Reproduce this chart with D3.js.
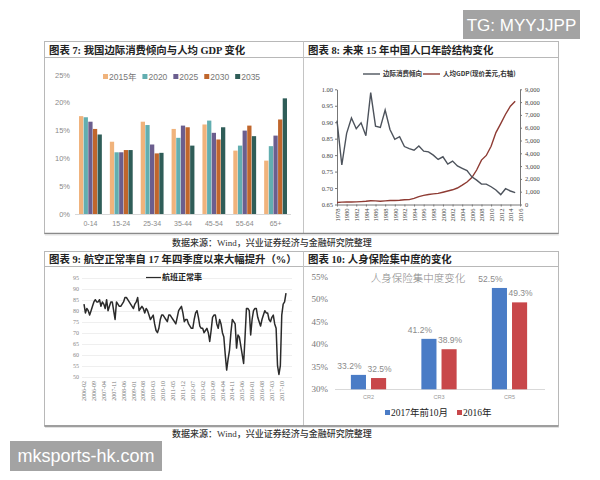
<!DOCTYPE html>
<html><head><meta charset="utf-8">
<script src="https://cdn.jsdelivr.net/npm/d3@7"></script>
<style>body{margin:0;background:#fff}svg{display:block}</style>
</head><body><svg id="c" width="600" height="480"></svg>
<script>
// ---------- DATA ----------
// Panel 7
const ageGroups = ["0-14","15-24","25-34","35-44","45-54","55-64","65+"];
const years7 = ["2015年","2020","2025","2030","2035"];
const mpc2015 = [17.6,13.0,16.6,15.3,16.1,11.4,9.6];
const mpc2020 = [17.4,11.1,16.0,13.7,16.8,12.3,12.2];
const mpc2025 = [16.6,11.1,12.5,15.9,14.6,15.0,14.1];
const mpc2030 = [15.3,11.5,10.9,15.6,13.4,15.9,17.0];
const mpc2035 = [14.3,11.5,11.0,12.3,15.6,14.0,20.8];
const yTicks7 = [0,5,10,15,20,25];

// Panel 8
const years8 = [1978,1979,1980,1981,1982,1983,1984,1985,1986,1987,1988,1989,1990,1991,1992,1993,1994,1995,1996,1997,1998,1999,2000,2001,2002,2003,2004,2005,2006,2007,2008,2009,2010,2011,2012,2013,2014,2015];
const marginalPropensity = [0.905,0.770,0.866,0.913,0.880,0.898,0.859,0.990,0.888,0.884,0.937,0.878,0.848,0.856,0.826,0.820,0.815,0.828,0.812,0.810,0.800,0.787,0.795,0.773,0.782,0.767,0.760,0.753,0.734,0.724,0.712,0.712,0.704,0.694,0.680,0.698,0.691,0.686];
const gdpPerCapita = [156,184,195,197,203,225,250,294,282,252,284,311,318,333,366,377,473,610,709,782,829,873,959,1053,1149,1289,1509,1753,2099,2694,3468,3832,4550,5618,6317,7051,7679,8067];
const xTicks8 = [1978,1980,1982,1984,1986,1988,1990,1992,1994,1996,1998,2000,2002,2004,2006,2008,2010,2012,2014,2016];
const yTicksL8 = [0.65,0.70,0.75,0.80,0.85,0.90,0.95,1.00];
const yTicksR8 = [0,1000,2000,3000,4000,5000,6000,7000,8000,9000];

// Panel 9
const punctuality = [83,79,81,80,78,80,82,84,85,84,84,85,82,84,83,81,85,80,82,84,84,80,76,84,83,82,82,83,84,86,86,85,84,83,82,81,83,84,86,80,81,82,81,79,81,80,78,76,77,78,74,71,70,72,76,78,78,77,76,75,78,78,77,76,75,74,77,80,81,82,79,75,76,76,74,73,72,72,76,79,80,77,73,72,72,70,71,72,70,66,71,77,78,78,74,72,76,74,70,68,60,53,58,62,70,76,75,74,63,69,68,64,60,56,68,81,81,80,69,76,80,81,81,77,75,73,76,78,80,79,79,76,75,77,78,74,72,55,51,55,78,83,84,88];
const xTicks9 = ["2006-02","2006-09","2007-04","2007-11","2008-06","2009-01","2009-08","2010-03","2010-10","2011-05","2011-12","2012-07","2013-02","2013-09","2014-04","2014-11","2015-06","2016-01","2016-08","2017-03","2017-10"];
const yTicks9 = [50,55,60,65,70,75,80,85,90,95];

// Panel 10
const crCats = ["CR2","CR3","CR5"];
const series10 = ["2017年前10月","2016年"];
const cr2017 = [33.2,41.2,52.5];
const cr2016 = [32.5,38.9,49.3];
const yTicks10 = [30,35,40,45,50,55];

// ---------- DRAW ----------
const svg = d3.select("#c");
svg.append("rect").attr("width",600).attr("height",480).attr("fill","#fff");
const CJK = "'Noto Sans CJK SC',sans-serif";
const SERIF = "'Liberation Serif','Noto Sans CJK SC',serif";

function panelFrame(y0,yT,y1){
  const g = svg.append("g").attr("fill","none");
  g.append("rect").attr("x",44.5).attr("y",y0).attr("width",514).attr("height",y1-y0).attr("stroke","#b8b8b8");
  g.append("line").attr("x1",44.5).attr("x2",558.5).attr("y1",yT).attr("y2",yT).attr("stroke","#b8b8b8");
  g.append("line").attr("x1",303.5).attr("x2",303.5).attr("y1",y0).attr("y2",y1).attr("stroke","#c4c4c4");
  g.append("line").attr("x1",44.5).attr("x2",558.5).attr("y1",y1).attr("y2",y1).attr("stroke","#8a8a8a").attr("stroke-width",1.5);
  g.append("line").attr("x1",45).attr("x2",559).attr("y1",y1+1.5).attr("y2",y1+1.5).attr("stroke","#e2e2e2").attr("stroke-width",1.2);
}
panelFrame(41.5,57.5,233.5);
panelFrame(251.5,266.5,426);

function title(x,y,t){
  svg.append("text").attr("x",x).attr("y",y).text(t)
    .attr("font-family",SERIF).attr("font-size",10.4).attr("font-weight",700).attr("fill","#222");
}
title(49,53.5,"图表 7: 我国边际消费倾向与人均 GDP 变化");
title(308,53.5,"图表 8: 未来 15 年中国人口年龄结构变化");
title(49,263,"图表 9: 航空正常率自 17 年四季度以来大幅提升（%）");
title(308,263,"图表 10: 人身保险集中度的变化");

function source(y){
  svg.append("text").attr("x",172).attr("y",y).text("数据来源：Wind，兴业证券经济与金融研究院整理")
    .attr("font-family",SERIF).attr("font-size",9).attr("font-weight",500).attr("fill","#333");
}
source(245.5);
source(437);

// ===== Panel 7 =====
{
  const g = svg.append("g");
  const series = [mpc2015,mpc2020,mpc2025,mpc2030,mpc2035];
  const colors = ["#f0b37c","#62aeb0","#6b5e8e","#c0662c","#2f5d58"];
  const x = d3.scaleBand().domain(ageGroups).range([75,291]).paddingInner(0.26).paddingOuter(0.13);
  const xi = d3.scaleBand().domain(years7).range([0,x.bandwidth()]).paddingInner(0.08);
  const y = d3.scaleLinear().domain([0,25]).range([214,75]);
  g.selectAll(".yl").data(yTicks7).join("text").attr("x",70).attr("y",d=>y(d)).attr("dy","0.35em")
    .attr("text-anchor","end").attr("font-size",7.5).attr("font-family","'Liberation Sans',sans-serif").attr("fill","#8a8a8a").text(d=>d+"%");
  g.append("line").attr("x1",75).attr("x2",291).attr("y1",y(0)+0.5).attr("y2",y(0)+0.5).attr("stroke","#d8d8d8");
  years7.forEach((yr,k)=>{
    g.selectAll(null).data(ageGroups).join("rect")
      .attr("x",d=>x(d)+xi(yr)).attr("width",xi.bandwidth())
      .attr("y",(d,i)=>y(series[k][i])).attr("height",(d,i)=>y(0)-y(series[k][i]))
      .attr("fill",colors[k]);
  });
  g.selectAll(".xl").data(ageGroups).join("text").attr("x",d=>x(d)+x.bandwidth()/2).attr("y",226)
    .attr("text-anchor","middle").attr("font-size",7).attr("font-family","'Liberation Sans',sans-serif").attr("fill","#8a8a8a").text(d=>d);
  let lx = 103;
  years7.forEach((yr,k)=>{
    g.append("rect").attr("x",lx).attr("y",74).attr("width",5).attr("height",5).attr("fill",colors[k]);
    const t = g.append("text").attr("x",lx+6).attr("y",77).attr("dy","0.35em").attr("font-size",8.5)
      .attr("font-family","'Liberation Sans','Noto Sans CJK SC',sans-serif").attr("fill","#777").text(yr);
    lx += 6 + t.node().getComputedTextLength() + 6;
  });
}

// ===== Panel 8 =====
{
  const g = svg.append("g");
  const x = d3.scaleLinear().domain([1978,2016]).range([337,520]);
  const yL = d3.scaleLinear().domain([0.65,1.0]).range([204.5,89.3]);
  const yR = d3.scaleLinear().domain([0,9000]).range([204.5,89.3]);
  const small = "'Liberation Serif',serif";
  const ax = g.append("g").attr("transform","translate(337,0)")
    .call(d3.axisLeft(yL).tickValues(yTicksL8).tickFormat(d3.format(".2f")).tickSize(2).tickSizeOuter(0));
  const ar = g.append("g").attr("transform","translate(520,0)")
    .call(d3.axisRight(yR).tickValues(yTicksR8).tickFormat(d3.format(",")).tickSize(2).tickSizeOuter(0));
  const ab = g.append("g").attr("transform","translate(0,204.5)")
    .call(d3.axisBottom(x).tickValues(xTicks8).tickFormat(d3.format("d")).tickSize(2).tickSizeOuter(0));
  ab.selectAll("text").attr("transform","rotate(-90)").attr("x",-4).attr("y",0).attr("dy","0.35em").style("text-anchor","end");
  [ax,ar,ab].forEach(a=>{
    a.selectAll("text").attr("font-size",6.5).attr("font-family",small).attr("fill","#444");
    a.selectAll("path,line").attr("stroke","#777");
  });
  ar.selectAll("text").attr("x",5);
  ax.selectAll("text").attr("x",-4);
  const lineL = d3.line().x((d,i)=>x(years8[i])).y(d=>yL(d));
  const lineR = d3.line().x((d,i)=>x(years8[i])).y(d=>yR(d));
  g.append("path").attr("d",lineR(gdpPerCapita)).attr("fill","none").attr("stroke","#8e3b33").attr("stroke-width",1.4);
  g.append("path").attr("d",lineL(marginalPropensity)).attr("fill","none").attr("stroke","#4d535c").attr("stroke-width",1.4);
  g.append("line").attr("x1",363).attr("x2",380).attr("y1",74).attr("y2",74).attr("stroke","#4d535c").attr("stroke-width",1.4);
  g.append("text").attr("x",383).attr("y",74).attr("dy","0.35em").attr("font-size",6.5).attr("font-weight",700)
    .attr("font-family",CJK).attr("fill","#333").text("边际消费倾向");
  g.append("line").attr("x1",423).attr("x2",440).attr("y1",74).attr("y2",74).attr("stroke","#8e3b33").attr("stroke-width",1.4);
  g.append("text").attr("x",443).attr("y",74).attr("dy","0.35em").attr("font-size",6.5).attr("font-weight",700)
    .attr("font-family",CJK).attr("fill","#333").text("人均GDP(现价美元,右轴)");
}

// ===== Panel 9 =====
{
  const g = svg.append("g");
  const months = [];
  for (let k=0;k<punctuality.length;k++){
    const m = 1 + k;
    const yr = 2006 + Math.floor(m/12), mo = (m%12)+1;
    months.push(yr+"-"+String(mo).padStart(2,"0"));
  }
  const x = d3.scalePoint().domain(months).range([84,286]);
  const y = d3.scaleLinear().domain([50,95]).range([376.7,277.7]);
  g.selectAll(".gl").data(yTicks9).join("line").attr("x1",82).attr("x2",292)
    .attr("y1",d=>Math.round(y(d))+0.5).attr("y2",d=>Math.round(y(d))+0.5).attr("stroke","#efefef");
  g.selectAll(".yl").data(yTicks9).join("text").attr("x",79).attr("y",d=>y(d)).attr("dy","0.35em")
    .attr("text-anchor","end").attr("font-size",6).attr("font-family","'Liberation Serif',serif").attr("fill","#888").text(d=>d);
  g.selectAll(".xl").data(xTicks9).join("text")
    .attr("transform",d=>`translate(${x(d)},381) rotate(-90)`).attr("dy","0.35em")
    .attr("text-anchor","end").attr("font-size",6).attr("font-family","'Liberation Serif',serif").attr("fill","#777").text(d=>d);
  const line = d3.line().x((d,i)=>x(months[i])).y(d=>y(d));
  g.append("path").attr("d",line(punctuality)).attr("fill","none").attr("stroke","#2b2b2b").attr("stroke-width",1.5).attr("stroke-linejoin","round");
  g.append("line").attr("x1",146).attr("x2",161).attr("y1",277.5).attr("y2",277.5).attr("stroke","#2b2b2b").attr("stroke-width",1.2);
  g.append("text").attr("x",162).attr("y",277.5).attr("dy","0.35em").attr("font-size",8).attr("font-weight",700)
    .attr("font-family",CJK).attr("fill","#222").text("航班正常率");
}

// ===== Panel 10 =====
{
  const g = svg.append("g");
  const x = d3.scaleBand().domain(crCats).range([333.25,544.75]).paddingInner(0.5).paddingOuter(0.25);
  const xi = d3.scaleBand().domain(series10).range([0,x.bandwidth()]).paddingInner(0.25);
  const y = d3.scaleLinear().domain([30,55]).range([389.3,276.7]);
  const colors = ["#4a7cc6","#c8474a"];
  const vals = [cr2017,cr2016];
  g.selectAll(".yl").data(yTicks10).join("text").attr("x",328).attr("y",d=>y(d)).attr("dy","0.35em")
    .attr("text-anchor","end").attr("font-size",9).attr("font-family","'Liberation Serif',serif").attr("fill","#777").text(d=>d+"%");
  g.append("line").attr("x1",335).attr("x2",545).attr("y1",389.5).attr("y2",389.5).attr("stroke","#d9d9d9");
  series10.forEach((s,k)=>{
    g.selectAll(null).data(crCats).join("rect")
      .attr("x",d=>x(d)+xi(s)).attr("width",xi.bandwidth())
      .attr("y",(d,i)=>y(vals[k][i])).attr("height",(d,i)=>y(30)-y(vals[k][i])).attr("fill",colors[k]);
    g.selectAll(null).data(crCats).join("text")
      .attr("x",d=>x(d)+xi(s)+xi.bandwidth()/2+(k===0?-9:1)).attr("y",(d,i)=>y(vals[k][i])-6)
      .attr("text-anchor","middle").attr("font-size",8.5).attr("font-family","'Liberation Sans',sans-serif").attr("fill","#8a8a8a")
      .text((d,i)=>vals[k][i].toFixed(1)+"%");
  });
  g.selectAll(".xl").data(crCats).join("text").attr("x",d=>x(d)+x.bandwidth()/2).attr("y",399)
    .attr("text-anchor","middle").attr("font-size",5.5).attr("font-family","'Liberation Sans',sans-serif").attr("fill","#999").text(d=>d);
  g.append("text").attr("x",418).attr("y",278).attr("dy","0.35em").attr("text-anchor","middle").attr("font-size",10.5)
    .attr("font-family",CJK).attr("font-weight",300).attr("fill","#888").text("人身保险集中度变化");
  let lx = 385;
  series10.forEach((s,k)=>{
    g.append("rect").attr("x",lx).attr("y",410).attr("width",5).attr("height",5).attr("fill",colors[k]);
    const t = g.append("text").attr("x",lx+6).attr("y",412.5).attr("dy","0.35em").attr("font-size",9.5)
      .attr("font-family",SERIF).attr("fill","#222").text(s);
    lx += 6 + t.node().getComputedTextLength() + 9;
  });
}

// ===== watermarks =====
svg.append("rect").attr("x",463).attr("y",10).attr("width",117).attr("height",29).attr("fill","#a3a3a3");
svg.append("text").attr("x",521.5).attr("y",25).attr("dy","0.35em").attr("text-anchor","middle")
  .attr("font-size",17).attr("font-family","'Liberation Sans',sans-serif").attr("fill","#fff").text("TG: MYYJJPP");
svg.append("rect").attr("x",10).attr("y",441).attr("width",152).attr("height",30).attr("fill","#a3a3a3");
svg.append("text").attr("x",86).attr("y",456).attr("dy","0.35em").attr("text-anchor","middle")
  .attr("font-size",18).attr("font-family","'Liberation Sans',sans-serif").attr("fill","#fff").text("mksports-hk.com");
</script>
</body></html>
